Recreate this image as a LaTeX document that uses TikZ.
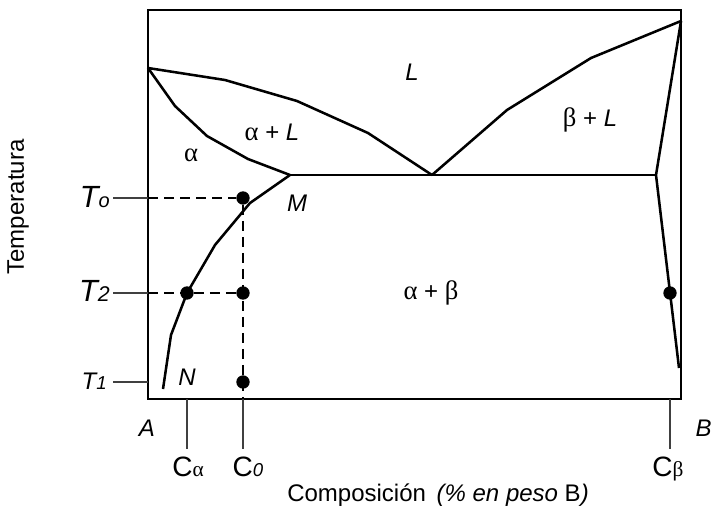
\documentclass[tikz,border=0pt]{standalone}
\usepackage{fontspec}
\setmainfont{Liberation Sans}
\newfontfamily\grk{Liberation Serif}
\newcommand\myalpha{{\grk\fontsize{20}{20}\selectfont α}}
\newcommand\mybeta{{\grk\fontsize{20}{20}\selectfont β}}
\begin{document}
\begin{tikzpicture}[x=0.75pt,y=-0.75pt,
  phase/.style={line width=1.9pt,line join=round},
  frame/.style={line width=1.1pt},
  tick/.style={line width=0.8pt,black!75},
  guide/.style={line width=0.8pt,dash pattern=on 7.5pt off 4.5pt},
  dot/.style={circle,fill=black,inner sep=0pt,minimum size=10pt},
  lab/.style={font=\fontsize{18}{18}\selectfont,inner sep=0pt},
  big/.style={font=\fontsize{23}{23}\selectfont,inner sep=0pt}]
\useasboundingbox (0,0) rectangle (712,508);
% frame
\coordinate (FTL) at (148,10);
\coordinate (FBR) at (681,399);
\draw[frame] (FTL) rectangle (FBR);
% key points
\coordinate (A0) at (148,68);
\coordinate (E) at (432,175);
\coordinate (M) at (290,175);
\coordinate (Bt) at (681,21);
\coordinate (Bs) at (656,175);
\coordinate (Bb) at (679,368);
\coordinate (Nend) at (163,389);
% liquidus and solidus
\draw[phase] (A0) -- (225,80) -- (297,101) -- (368,133) -- (E);
\draw[phase] (A0) -- (175,106) -- (207,136) -- (248,159) -- (M);
\draw[phase] (E) -- (507,110) -- (591,58) -- (Bt);
\draw[phase] (Bt) -- (Bs) -- (Bb);
\draw[phase] (M) -- (Bs);
\draw[phase] (M) -- (250,203) -- (215,245) -- (187,293) -- (171,335) -- (Nend);
% dots
\node[dot] (d0) at (243,198) {};
\node[dot] (da) at (187,293) {};
\node[dot] (d2) at (243,293) {};
\node[dot] (d1) at (243,382) {};
\node[dot] (db) at (670,293) {};
% temperature ticks
\coordinate (t0) at (113,198);
\coordinate (t0f) at (148,198);
\coordinate (t2) at (113,293);
\coordinate (t2f) at (148,293);
\coordinate (t1) at (113,382);
\coordinate (t1f) at (148,382);
\draw[tick] (t0) -- (t0f);
\draw[tick] (t2) -- (t2f);
\draw[tick] (t1) -- (t1f);
\draw[guide] (t0f) -- (d0);
\draw[guide] (t2f) -- (da) -- (d2);
\coordinate (c0b) at (243,399);
\draw[guide] (d0) -- (c0b);
% composition ticks
\coordinate (ca1) at (187,399);
\coordinate (ca2) at (187,449);
\coordinate (c02) at (243,449);
\coordinate (cb1) at (670,399);
\coordinate (cb2) at (670,449);
\draw[tick] (ca1) -- (ca2);
\draw[tick] (c0b) -- (c02);
\draw[tick] (cb1) -- (cb2);
% region labels
\node[lab] (lL) at (412,72) {\itshape L};
\node[lab] (lAL) at (272,132) {\myalpha{} + \textit{L}};
\node[lab] (lBL) at (590,120) {\mybeta{} + \textit{L}};
\node[lab] (lA) at (191,155) {\myalpha};
\node[lab] (lAB) at (431,293) {\myalpha{} + \mybeta};
\node[lab] (lM) at (297,203) {\itshape M};
\node[lab] (lN) at (187,377) {\itshape N};
\node[lab] (lAa) at (147,428) {\itshape A};
\node[lab,anchor=east] (lBb) at (712,428) {\itshape B};
% temperature labels
\node[big,anchor=base east] (T0) at (110,207) {\itshape T\fontsize{15}{15}\selectfont o};
\node[big,anchor=base east] (T2) at (110,301) {\itshape T\fontsize{16}{16}\selectfont 2};
\node[lab,anchor=base east] (T1) at (107,389) {\itshape T\fontsize{14}{14}\selectfont 1};
% composition labels
\node[font=\fontsize{21}{21}\selectfont,inner sep=0pt,anchor=base] (Ca) at (188,476) {C{\fontsize{16}{16}\selectfont\grk α}};
\node[font=\fontsize{21}{21}\selectfont,inner sep=0pt,anchor=base] (C0) at (248,476) {C{\fontsize{14}{14}\selectfont\itshape 0}};
\node[font=\fontsize{21}{21}\selectfont,inner sep=0pt,anchor=base] (Cb) at (668,476) {C{\fontsize{16}{16}\selectfont\grk β}};
% axis titles
\node[lab] (xt) at (438,495) {Composición \,\textit{(\% en peso} B\textit{)}};
\node[lab,rotate=90] (yt) at (18,207) {Temperatura};
\end{tikzpicture}
\end{document}
